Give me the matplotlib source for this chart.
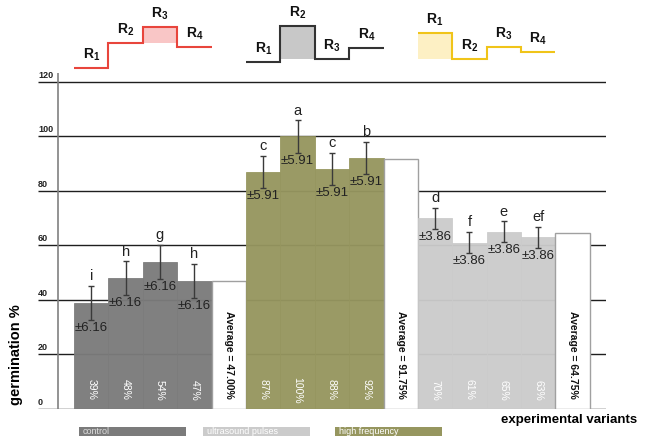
import numpy as np
import matplotlib.pyplot as plt
from matplotlib.patches import Rectangle

plt.rcParams['font.family'] = ['Liberation Sans', 'DejaVu Sans']
plt.rcParams['mathtext.fontset'] = 'custom'
plt.rcParams['mathtext.bf'] = 'Liberation Sans:bold'
plt.rcParams['mathtext.rm'] = 'Liberation Sans'

# germination data, 4 variants per treatment
control = [39, 48, 54, 47]
high_freq = [87, 100, 88, 92]
ultrasound = [70, 61, 65, 63]
err_control = 6.16
err_high = 5.91
err_ultra = 3.86
let_control = ['i', 'h', 'g', 'h']
let_high = ['c', 'a', 'c', 'b']
let_ultra = ['d', 'f', 'e', 'ef']
yticks = [0, 20, 40, 60, 80, 100, 120]

# step diagrams above each group (relative heights of R1..R4)
steps_red = [2, 27, 43, 23]
steps_black = [8, 44, 11, 22]
steps_yellow = [37, 11, 23, 18]

legend_names = ['control', 'ultrasound pulses', 'high frequency']

c_dark = '#7b7b7b'
c_olive = '#96965f'
c_light = '#cbcbcb'

groups = [(control, err_control, let_control, c_dark),
          (high_freq, err_high, let_high, c_olive),
          (ultrasound, err_ultra, let_ultra, c_light)]

W, H = 656, 436
fig = plt.figure(figsize=(W / 100, H / 100), dpi=100)
ax = fig.add_axes([38 / W, 27 / H, 568 / W, 336 / H])
x0, x1 = -1.547, 14.97
ax.set_xlim(x0, x1)
ax.set_ylim(0, 123.3)
ax.axis('off')

ax.hlines(yticks, x0, x1, color='#1e1e1e', lw=1, zorder=1)
ax.vlines(-0.965, 0, 123.3, color='#808080', lw=1.2, zorder=1)
for t in yticks:
    ax.text(x0, t + 0.8, str(t), ha='left', va='bottom', fontsize=6.5,
            weight='bold', color='#222222')

pos = 0
for vals, err, letters, col in groups:
    xs = np.arange(pos, pos + len(vals))
    ax.bar(xs, vals, width=1, color=col, alpha=0.96, edgecolor=col,
           lw=0.6, zorder=2)
    ax.errorbar(xs, vals, yerr=err, fmt='none', ecolor='#3a3a3a',
                elinewidth=1, capsize=2, capthick=1, zorder=4)
    for x, v, l in zip(xs, vals, letters):
        ax.annotate(l, (x, v + err), xytext=(0, 2), textcoords='offset points',
                    ha='center', va='bottom', fontsize=10.5, color='#222222')
        ax.annotate('±%.2f' % err, (x, v - err), xytext=(0, -1.5),
                    textcoords='offset points', ha='center', va='top',
                    fontsize=9.5, color='#222222', zorder=5)
        ax.text(x, 7, '%d%%' % v, rotation=-90, ha='center', va='center',
                fontsize=7.5, color='white', zorder=5)
    avg = np.mean(vals)
    xa = pos + len(vals)
    ax.bar(xa, avg, width=1, color='white', edgecolor='#a0a0a0', lw=1, zorder=2)
    ax.text(xa, 20, 'Average = %.2f%%' % avg, rotation=-90, ha='center',
            va='center', fontsize=7.5, weight='bold', color='#111111', zorder=5)
    pos = xa + 1

# step diagrams
top = fig.add_axes([38 / W, (H - 73) / H, 568 / W, 73 / H])
top.set_xlim(x0, x1)
top.set_ylim(-3, 70)
top.axis('off')
diagrams = [(steps_red, 0, '#e8453c', '#f9c6c6', 2),
            (steps_black, 5, '#333333', '#c8c8c8', 1),
            (steps_yellow, 10, '#f0c419', '#fdf0c4', 0)]
for lev, start, lc, fc, hi in diagrams:
    edges = np.arange(start - 0.5, start + len(lev) + 0.5)
    neigh = [lev[i] for i in (hi - 1, hi + 1) if 0 <= i < len(lev)]
    top.fill_between([edges[hi], edges[hi + 1]], max(neigh), lev[hi],
                     color=fc, lw=0, zorder=1)
    top.stairs(lev, edges, baseline=None, color=lc, lw=1.5, zorder=2)
    for i, v in enumerate(lev):
        top.text(start + i, v + 5, r'$\mathbf{R_%d}$' % (i + 1), ha='center',
                 va='bottom', fontsize=10, color='#111111')

# group legend boxes along the bottom edge
for name, col, px, tc in zip(legend_names, [c_dark, c_light, c_olive],
                             [79, 203, 335], ['#dddddd', 'white', 'white']):
    fig.add_artist(Rectangle((px / W, -0.02), 107 / W, 0.02 + 9 / H,
                             transform=fig.transFigure, color=col, lw=0))
    fig.text((px + 4) / W, (H - 431.5) / H, name, ha='left', va='center',
             fontsize=6.5, color=tc)

fig.text(16 / W, 1 - 355 / H, 'germination %', rotation=90, ha='center',
         va='center', fontsize=10.5, weight='bold')
fig.text(569 / W, 1 - 420 / H, 'experimental variants', ha='center',
         va='center', fontsize=9.5, weight='bold')

fig.savefig('out.png', dpi=100)
